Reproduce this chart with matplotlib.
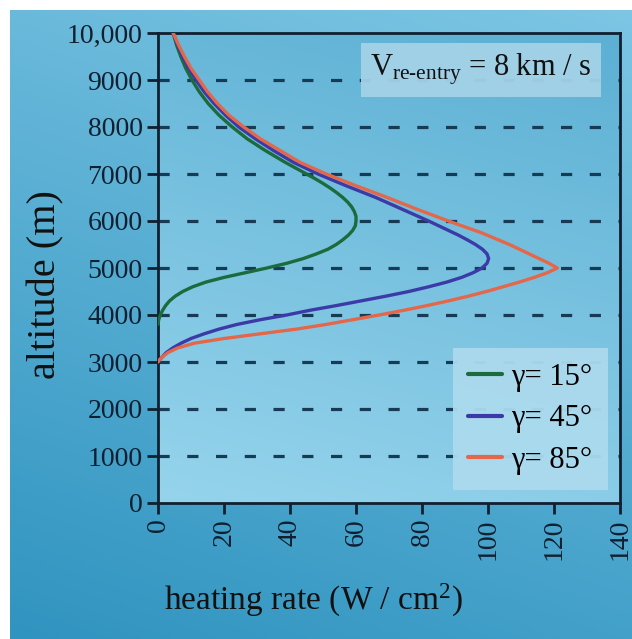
import numpy as np
import matplotlib
matplotlib.use("Agg")
import matplotlib.pyplot as plt

plt.rcParams['font.family'] = ['Liberation Serif', 'DejaVu Serif']
plt.rcParams['mathtext.fontset'] = 'custom'
plt.rcParams['mathtext.rm'] = 'Liberation Serif'
plt.rcParams['mathtext.it'] = 'Liberation Serif:italic'

# ---- data (altitude in m, heating rate in W/cm^2) ----
alt_15 = [3800, 3900, 4000, 4100, 4200, 4300, 4400, 4500, 4600, 4700, 4800, 4900, 5000,
          5100, 5200, 5300, 5400, 5500, 5600, 5700, 5800, 5900, 6000, 6100, 6200, 6300,
          6400, 6500, 6600, 6700, 6800, 6900, 7000, 7250, 7500, 7750, 8000, 8250, 8500,
          8750, 9000, 9250, 9500, 9750, 10000]
q_15 = [0, 0.2, 0.7, 1.4, 2.3, 3.5, 5.2, 7.5, 10.5, 14.5, 20, 26.5, 33,
        39, 44, 48, 51.5, 54, 56, 57.7, 59, 59.8, 60, 60, 59.5, 58.7,
        57.5, 56, 54.2, 52.2, 50, 47.6, 45, 38.5, 32.5, 27, 22.5, 18.5, 15.2,
        12.5, 10.3, 8.4, 6.9, 5.6, 4.6]

alt_45 = [3000, 3050, 3100, 3200, 3300, 3400, 3500, 3600, 3700, 3800, 3900, 4000, 4100,
          4200, 4300, 4400, 4500, 4600, 4700, 4800, 4900, 5000, 5100, 5200, 5300, 5400,
          5500, 5600, 5700, 5800, 5900, 6000, 6250, 6500, 6750, 7000, 7250, 7500, 7750,
          8000, 8250, 8500, 8750, 9000, 9250, 9500, 9750, 10000]
q_45 = [0, 0.5, 1.2, 2.5, 4.5, 7, 10, 14, 18.5, 24, 31, 39, 46,
        54, 61.5, 69, 76, 82, 87.5, 92, 95.5, 98.2, 99.7, 100.2, 99.7, 98.3,
        96.2, 93.7, 91, 88, 85, 82, 74, 66, 57, 48.5, 41, 35, 29.5,
        24.5, 20.5, 17, 14, 11.5, 9.3, 7.5, 5.9, 4.6]

alt_85 = [3000, 3050, 3100, 3200, 3300, 3400, 3500, 3600, 3700, 3800, 3900, 4000, 4100,
          4200, 4300, 4400, 4500, 4600, 4700, 4800, 4900, 5000, 5100, 5200, 5300, 5400,
          5500, 5750, 6000, 6250, 6500, 6750, 7000, 7250, 7500, 7750, 8000, 8250, 8500,
          8750, 9000, 9250, 9500, 9750, 10000]
q_85 = [0, 0.5, 1.2, 3, 6, 11, 20, 31, 42, 51, 59, 67, 74.5,
        81.5, 88, 94, 99.5, 104.5, 109.5, 114, 118, 121, 118.5, 115.5, 112.5, 109.5,
        106.5, 98, 88, 78.5, 69.5, 60, 51, 43, 37, 31, 26, 21.5, 18,
        15, 12.5, 10, 8, 6.2, 4.6]

labels = ["γ= 15°", "γ= 45°", "γ= 85°"]
colors = ["#1c6b3c", "#3b3aa6", "#e5674a"]

x_ticks = [0, 20, 40, 60, 80, 100, 120, 140]
y_ticks = [0, 1000, 2000, 3000, 4000, 5000, 6000, 7000, 8000, 9000, 10000]
y_ticklabels = ["0", "1000", "2000", "3000", "4000", "5000", "6000", "7000",
                "8000", "9000", "10,000"]
grid_levels = y_ticks[1:-1]

W, H = 632, 639
fig = plt.figure(figsize=(W / 100, H / 100), dpi=100)
fig.patch.set_facecolor("white")

# blue gradient panel behind everything
bg = fig.add_axes([10 / W, 0, 622 / W, 629 / H])
bg.set_axis_off()
ny, nx = 200, 200
ty = np.linspace(0, 1, ny)[:, None]
tx = np.linspace(0, 1, nx)[None, :]
top = np.array([125, 198, 228]) / 255
bot = np.array([48, 148, 192]) / 255
mix = np.clip(0.75 * ty + 0.25 * (1 - tx), 0, 1)
img = top[None, None, :] * (1 - mix[..., None]) + bot[None, None, :] * mix[..., None]
bg.imshow(img, aspect="auto", extent=[0, 1, 0, 1], origin="upper")
bg.set_xlim(0, 1)
bg.set_ylim(0, 1)

ax = fig.add_axes([158 / W, (H - 503) / H, 462 / W, 470 / H])
ax.set_xlim(0, 140)
ax.set_ylim(0, 10000)

# lighter gradient inside the plot area
in_top = np.array([92, 176, 212]) / 255
in_bot = np.array([150, 212, 236]) / 255
imix = np.clip(0.8 * ty + 0.2 * (1 - tx), 0, 1)
img2 = in_top[None, None, :] * (1 - imix[..., None]) + in_bot[None, None, :] * imix[..., None]
ax.imshow(img2, aspect="auto", extent=[0, 140, 0, 10000], origin="upper", zorder=0)

for lv in grid_levels:
    ax.axhline(lv, color="#173a55", lw=2.3, linestyle=(0, (3.5, 5.5)), zorder=1)

for a, q, c, lab in zip([alt_15, alt_45, alt_85], [q_15, q_45, q_85], colors, labels):
    ax.plot(q, a, color=c, lw=2.4, label=lab, zorder=3,
            solid_capstyle="round", solid_joinstyle="round")

ax.set_xticks(x_ticks)
ax.set_xticklabels([str(v) for v in x_ticks], rotation=90)
ax.set_yticks(y_ticks)
ax.set_yticklabels(y_ticklabels)
ax.tick_params(direction="out", length=8, width=2, colors="#102030",
               labelsize=20, pad=3)
for s in ax.spines.values():
    s.set_color("#102030")
    s.set_linewidth(2)

fig.text(313 / W, 1 - 600 / H, "heating rate (W / cm$^2$)", fontsize=24,
         color="#111", ha="center", va="center")
fig.text(46 / W, 1 - 285 / H, "altitude (m)", fontsize=29, color="#111",
         ha="center", va="center", rotation=90)

ax.text(97.9, 9220, r"V$_{\text{re-entry}}$ = 8 km / s", fontsize=22,
        ha="center", va="center", color="#111", zorder=4,
        bbox=dict(boxstyle="square,pad=0.3", facecolor="#a4d2e6", alpha=0.95,
                  edgecolor="none"))

leg = ax.legend(loc="lower right", fontsize=22, handlelength=1.1, handletextpad=0.33,
                labelspacing=0.4, borderpad=0.5, borderaxespad=0, frameon=True,
                fancybox=False, bbox_to_anchor=(0.974, 0.028))
leg.set_zorder(5)
leg.get_frame().set_facecolor("#acdaee")
leg.get_frame().set_alpha(0.95)
leg.get_frame().set_edgecolor("none")
for line in leg.get_lines():
    line.set_linewidth(3)

fig.savefig("out.png", dpi=100, facecolor=fig.get_facecolor())
